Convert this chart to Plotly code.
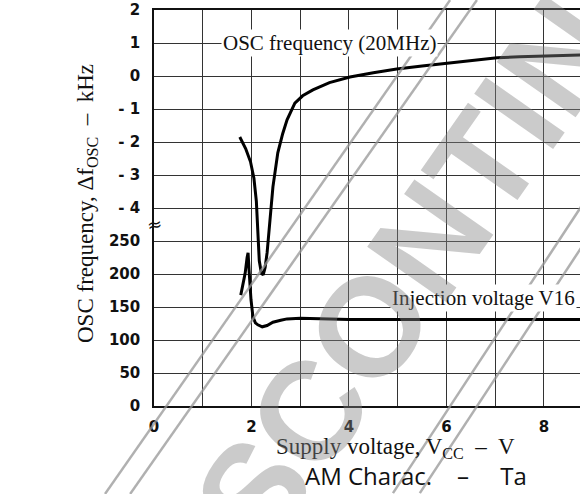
import plotly.graph_objects as go

# ---- data ----
# OSC frequency deviation (kHz, upper scale) vs supply voltage (V)
osc_v = [1.76, 1.88, 1.98, 2.05, 2.10, 2.13, 2.16, 2.20, 2.24, 2.28, 2.32, 2.38, 2.44,
         2.54, 2.64, 2.73, 2.89, 3.05, 3.26, 3.6, 4.02, 4.5, 4.98, 5.5, 6.01, 6.5,
         7.04, 7.5, 8.06, 8.74, 9.0]
osc_khz = [-1.85, -2.2, -2.6, -3.1, -3.8, -4.8, -5.6, -5.95, -6.03, -5.8, -5.36, -4.36, -3.36,
           -2.33, -1.75, -1.33, -0.82, -0.6, -0.42, -0.2, -0.03, 0.1, 0.21, 0.3, 0.39, 0.47,
           0.55, 0.58, 0.61, 0.64, 0.65]

# Injection voltage V16 (lower scale) vs supply voltage (V)
inj_v = [1.78, 1.83, 1.87, 1.91, 1.93, 1.95, 1.97, 1.99, 2.03, 2.08, 2.13, 2.22, 2.32,
         2.44, 2.6, 2.73, 3.0, 3.5, 4.0, 5.0, 6.0, 7.0, 8.0, 9.0]
inj_val = [168, 185, 201, 225, 232, 206, 180, 161, 135, 126, 123, 120, 122,
           127, 130, 132, 133, 132, 131, 131, 131, 131, 131, 131]

# broken axis: lower scale 0..250 (step 50) and upper scale -4..2 kHz (step 1)
y_tick_pos = list(range(13))
y_tick_text = ["0", "50", "100", "150", "200", "250",
               "- 4", "- 3", "- 2", "- 1", "0", "1", "2"]
x_tick_vals = list(range(10))
x_tick_text = ["0", "", "2", "", "4", "", "6", "", "8", ""]

LOWER_STEP = 50.0     # one grid division on the lower scale
UPPER_OFFSET = 10.0   # kHz 0 sits on grid division 10

osc_pos = [k + UPPER_OFFSET for k in osc_khz]
inj_pos = [v / LOWER_STEP for v in inj_val]

fig = go.Figure()
fig.add_trace(go.Scatter(x=osc_v, y=osc_pos, mode="lines",
                         line=dict(color="black", width=3), showlegend=False,
                         hoverinfo="skip"))
fig.add_trace(go.Scatter(x=inj_v, y=inj_pos, mode="lines",
                         line=dict(color="black", width=3), showlegend=False,
                         hoverinfo="skip"))

tick_font = dict(family="DejaVu Sans", size=15, color="#111", weight="bold")
serif = "Liberation Serif"

fig.update_layout(
    template="none",
    width=580, height=494,
    margin=dict(l=154, r=0, t=10, b=88, autoexpand=False),
    paper_bgcolor="white", plot_bgcolor="white",
    xaxis=dict(range=[0, 8.74], tickmode="array", tickvals=x_tick_vals, ticktext=x_tick_text,
               showgrid=True, gridcolor="#333333", gridwidth=1.2,
               showline=True, linecolor="#111111", linewidth=1.5, mirror=True,
               ticks="outside", ticklen=6, tickcolor="rgba(0,0,0,0)",
               tickfont=tick_font, zeroline=False, automargin=False),
    yaxis=dict(range=[0, 12], tickmode="array", tickvals=y_tick_pos, ticktext=y_tick_text,
               showgrid=True, gridcolor="#333333", gridwidth=1.2,
               showline=True, linecolor="#111111", linewidth=1.5,
               ticks="outside", ticklen=9, tickcolor="rgba(0,0,0,0)",
               tickfont=tick_font, zeroline=False, automargin=False),
)

# watermark double lines (decoration)
wm_line = dict(color="rgba(150,150,150,0.75)", width=2.5)
for (x0, y0, x1, y1) in [(-0.115, -0.222, 0.695, 1.025), (-0.056, -0.222, 0.758, 1.025),
                         (0.561, -0.220, 1.047, 0.576), (0.624, -0.220, 1.047, 0.472)]:
    fig.add_shape(type="line", xref="paper", yref="paper", x0=x0, y0=y0, x1=x1, y1=y1,
                  line=wm_line, layer="above")

# in-plot labels
fig.add_annotation(x=3.61, y=11.0, text="OSC frequency (20MHz)", showarrow=False,
                   xanchor="center", yanchor="middle",
                   font=dict(family=serif, size=21, color="#111"), bgcolor="white",
                   borderpad=1)
fig.add_annotation(x=6.75, y=3.27, text="Injection voltage V16", showarrow=False,
                   xanchor="center", yanchor="middle",
                   font=dict(family=serif, size=21, color="#111"), bgcolor="white",
                   borderpad=1)
# axis break mark
fig.add_annotation(x=0, y=5.5, text="≈", showarrow=False, xanchor="center", yanchor="middle",
                   font=dict(family="DejaVu Sans", size=18, color="#111"), textangle=-10)

# axis titles
fig.add_annotation(xref="paper", yref="paper", x=0, y=0.5, xshift=-67, yshift=4,
                   xanchor="center", yanchor="middle",
                   text="OSC frequency, Δf<sub>OSC</sub>\u00a0 –\u00a0 kHz", textangle=-90,
                   showarrow=False, font=dict(family=serif, size=23, color="#111"))
fig.add_annotation(xref="paper", yref="paper", x=0.568, y=0, yshift=-42,
                   xanchor="center", yanchor="middle",
                   text="Supply voltage, V<sub>CC</sub>\u00a0 –\u00a0 V", showarrow=False,
                   font=dict(family=serif, size=23, color="#111"))
fig.add_annotation(xref="paper", yref="paper", x=0.615, y=0, yshift=-69,
                   xanchor="center", yanchor="middle",
                   text="AM Charac.\u00a0\u00a0\u00a0 –\u00a0\u00a0\u00a0\u00a0 Ta", showarrow=False,
                   font=dict(family="Open Sans", size=24, color="#111"))

# watermark text
fig.add_annotation(xref="paper", yref="paper", x=0.70, y=0.50, text="DISCONTINUED",
                   xanchor="center", yanchor="middle",
                   textangle=-55, showarrow=False,
                   font=dict(family="Liberation Sans", size=140, weight="bold",
                             color="rgba(130,130,130,0.42)"))

post = """
document.body.style.margin = '0';
document.body.style.padding = '0';
document.body.style.overflow = 'hidden';
"""
fig.write_html("out.html", post_script=post, config={"displayModeBar": False})
